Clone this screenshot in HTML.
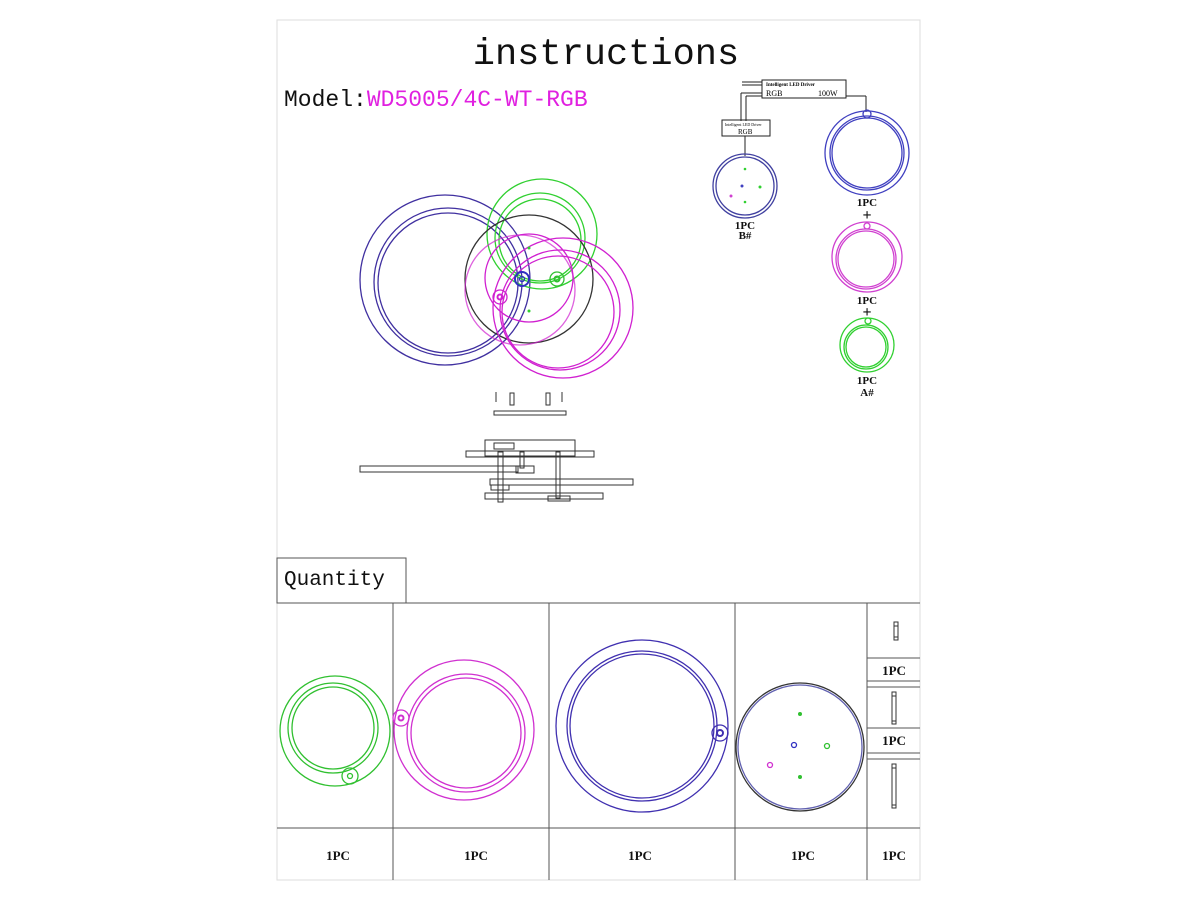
<!DOCTYPE html>
<html><head><meta charset="utf-8"><style>
html,body{margin:0;padding:0;background:#fff;width:1200px;height:900px;overflow:hidden}
svg{display:block}
.m{font-family:"Liberation Mono",monospace}
.s{font-family:"Liberation Serif",serif;font-weight:bold}
</style></head><body>
<svg width="1200" height="900" viewBox="0 0 1200 900" xmlns="http://www.w3.org/2000/svg">
<rect x="277" y="20" width="643" height="860" fill="#fff" stroke="#ddd" stroke-width="1"/>
<text x="606" y="64" text-anchor="middle" class="m" font-size="37" fill="#111">instructions</text>
<text x="284" y="106" class="m" font-size="23" fill="#111">Model:<tspan fill="#e020e0">WD5005/4C-WT-RGB</tspan></text>

<!-- main overlapping rings -->
<g fill="none" stroke-width="1.3">
<g stroke="#4030a0"><circle cx="445" cy="280" r="85"/><circle cx="448" cy="282" r="74"/><circle cx="448" cy="283" r="70"/></g>
<g stroke="#30d030"><circle cx="542" cy="234" r="55"/><circle cx="540" cy="238" r="45"/><circle cx="540" cy="240" r="41"/></g>
<circle cx="529" cy="279" r="64" stroke="#333"/>
<g stroke="#d020d0"><circle cx="529" cy="278" r="44"/><circle cx="563" cy="308" r="70"/><circle cx="560" cy="310" r="60"/><circle cx="558" cy="312" r="56"/><circle cx="520" cy="290" r="55" stroke-opacity=".7"/></g>
<circle cx="522" cy="279" r="7" stroke="#3030c0" stroke-width="2"/><circle cx="522" cy="279" r="2.5" stroke="#3030c0"/>
<circle cx="557" cy="279" r="7" stroke="#30c030"/><circle cx="557" cy="279" r="2.5" stroke="#30c030" stroke-width="2"/>
<circle cx="500" cy="297" r="7" stroke="#d020d0"/><circle cx="500" cy="297" r="2.5" stroke="#d020d0" stroke-width="2"/>
</g>
<circle cx="529" cy="248" r="1.5" fill="#30d030"/><circle cx="529" cy="311" r="1.5" fill="#30d030"/>

<!-- side view -->
<g fill="none" stroke="#333" stroke-width="1">
<rect x="494" y="411" width="72" height="4"/>
<line x1="496" y1="392" x2="496" y2="402"/><line x1="562" y1="392" x2="562" y2="402"/>
<rect x="510" y="393" width="4" height="12"/><rect x="546" y="393" width="4" height="12"/>
<rect x="485" y="440" width="90" height="16"/>
<rect x="466" y="451" width="128" height="6"/>
<rect x="360" y="466" width="158" height="6"/>
<rect x="516" y="466" width="18" height="7"/>
<rect x="490" y="479" width="143" height="6"/>
<rect x="491" y="485" width="18" height="5"/>
<rect x="485" y="493" width="118" height="6"/>
<rect x="548" y="496" width="22" height="5"/>
<rect x="498" y="452" width="5" height="50"/><rect x="520" y="452" width="4" height="16"/><rect x="556" y="452" width="4" height="46"/>
<rect x="494" y="443" width="20" height="6"/>
</g>

<!-- wiring diagram top right -->
<g fill="none" stroke="#222" stroke-width="1">
<rect x="762" y="80" width="84" height="18"/>
<line x1="742" y1="82" x2="762" y2="82"/><line x1="742" y1="85" x2="762" y2="85"/>
<line x1="762" y1="93" x2="741" y2="93"/><line x1="741" y1="93" x2="741" y2="121"/>
<line x1="762" y1="96" x2="746" y2="96"/><line x1="746" y1="96" x2="746" y2="121"/>
<rect x="722" y="120" width="48" height="16"/>
<line x1="745" y1="136" x2="745" y2="156"/>
<line x1="846" y1="96" x2="866" y2="96"/><line x1="866" y1="96" x2="866" y2="112"/>
</g>
<text x="766" y="86" font-family="Liberation Serif,serif" font-size="5" font-weight="bold">Intelligent LED Driver</text>
<text x="766" y="96" font-family="Liberation Serif,serif" font-size="8">RGB</text>
<text x="818" y="96" font-family="Liberation Serif,serif" font-size="8">100W</text>
<text x="725" y="126" font-family="Liberation Serif,serif" font-size="4">Intelligent LED Driver</text>
<text x="738" y="134" font-family="Liberation Serif,serif" font-size="7">RGB</text>
<g fill="none" stroke-width="1.3">
<g stroke="#4040a0"><circle cx="745" cy="186" r="32"/><circle cx="745" cy="186" r="29"/></g>
<g stroke="#4040c0"><circle cx="867" cy="153" r="42"/><circle cx="867" cy="153" r="37"/><circle cx="867" cy="153" r="35"/><circle cx="867" cy="114" r="4"/></g>
<g stroke="#d040d0"><circle cx="867" cy="257" r="35"/><circle cx="866" cy="259" r="30"/><circle cx="866" cy="259" r="28"/><circle cx="867" cy="226" r="3"/></g>
<g stroke="#30d030"><circle cx="867" cy="345" r="27"/><circle cx="866" cy="347" r="22"/><circle cx="866" cy="347" r="20"/><circle cx="868" cy="321" r="3"/></g>
</g>
<circle cx="745" cy="169" r="1.3" fill="#30d030"/><circle cx="742" cy="186" r="1.5" fill="#4040c0"/><circle cx="760" cy="187" r="1.5" fill="#30d030"/><circle cx="731" cy="196" r="1.5" fill="#d040d0"/><circle cx="745" cy="202" r="1.3" fill="#30d030"/>
<g class="s" font-size="11" fill="#111" text-anchor="middle">
<text x="745" y="229">1PC</text><text x="745" y="239">B#</text>
<text x="867" y="206">1PC</text><text x="867" y="220" font-size="16">+</text>
<text x="867" y="304">1PC</text><text x="867" y="317" font-size="16">+</text>
<text x="867" y="384">1PC</text><text x="867" y="396">A#</text>
</g>

<!-- quantity table -->
<g fill="none" stroke="#555" stroke-width="1">
<rect x="277" y="558" width="129" height="45"/>
<line x1="277" y1="603" x2="920" y2="603"/>
<line x1="277" y1="828" x2="920" y2="828"/>
<line x1="393" y1="603" x2="393" y2="880"/>
<line x1="549" y1="603" x2="549" y2="880"/>
<line x1="735" y1="603" x2="735" y2="880"/>
<line x1="867" y1="603" x2="867" y2="880"/>
<line x1="867" y1="658" x2="920" y2="658"/><line x1="867" y1="681" x2="920" y2="681"/><line x1="867" y1="687" x2="920" y2="687"/>
<line x1="867" y1="728" x2="920" y2="728"/><line x1="867" y1="753" x2="920" y2="753"/><line x1="867" y1="759" x2="920" y2="759"/>
</g>
<text x="284" y="585" class="m" font-size="21" fill="#111">Quantity</text>
<g fill="none" stroke-width="1.3">
<g stroke="#30c030"><circle cx="335" cy="731" r="55"/><circle cx="333" cy="728" r="45"/><circle cx="333" cy="728" r="41"/><circle cx="350" cy="776" r="8"/><circle cx="350" cy="776" r="2.5"/></g>
<g stroke="#d030d0"><circle cx="464" cy="730" r="70"/><circle cx="466" cy="733" r="59"/><circle cx="466" cy="733" r="55"/><circle cx="401" cy="718" r="8"/><circle cx="401" cy="718" r="2.5" stroke-width="2"/></g>
<g stroke="#4030b0"><circle cx="642" cy="726" r="86"/><circle cx="642" cy="726" r="75"/><circle cx="642" cy="726" r="72"/><circle cx="720" cy="733" r="8"/><circle cx="720" cy="733" r="3" stroke-width="2"/></g>
<circle cx="800" cy="747" r="64" stroke="#333"/><circle cx="800" cy="747" r="62" stroke="#6060b0"/>
<circle cx="794" cy="745" r="2.5" stroke="#3030c0"/><circle cx="827" cy="746" r="2.5" stroke="#30c030"/><circle cx="770" cy="765" r="2.5" stroke="#d030d0"/>
</g>
<circle cx="800" cy="714" r="2" fill="#30c030"/><circle cx="800" cy="777" r="2" fill="#30c030"/>
<g fill="none" stroke="#333" stroke-width="1">
<rect x="894" y="622" width="4" height="18"/><line x1="894" y1="626" x2="898" y2="626"/><line x1="894" y1="637" x2="898" y2="637"/>
<rect x="892" y="692" width="4" height="32"/><line x1="892" y1="696" x2="896" y2="696"/><line x1="892" y1="721" x2="896" y2="721"/>
<rect x="892" y="764" width="4" height="44"/><line x1="892" y1="768" x2="896" y2="768"/><line x1="892" y1="805" x2="896" y2="805"/>
</g>
<g class="s" font-size="13" fill="#111" text-anchor="middle">
<text x="894" y="675">1PC</text><text x="894" y="745">1PC</text>
<text x="338" y="860">1PC</text><text x="476" y="860">1PC</text><text x="640" y="860">1PC</text><text x="803" y="860">1PC</text><text x="894" y="860">1PC</text>
</g>
</svg>
</body></html>
